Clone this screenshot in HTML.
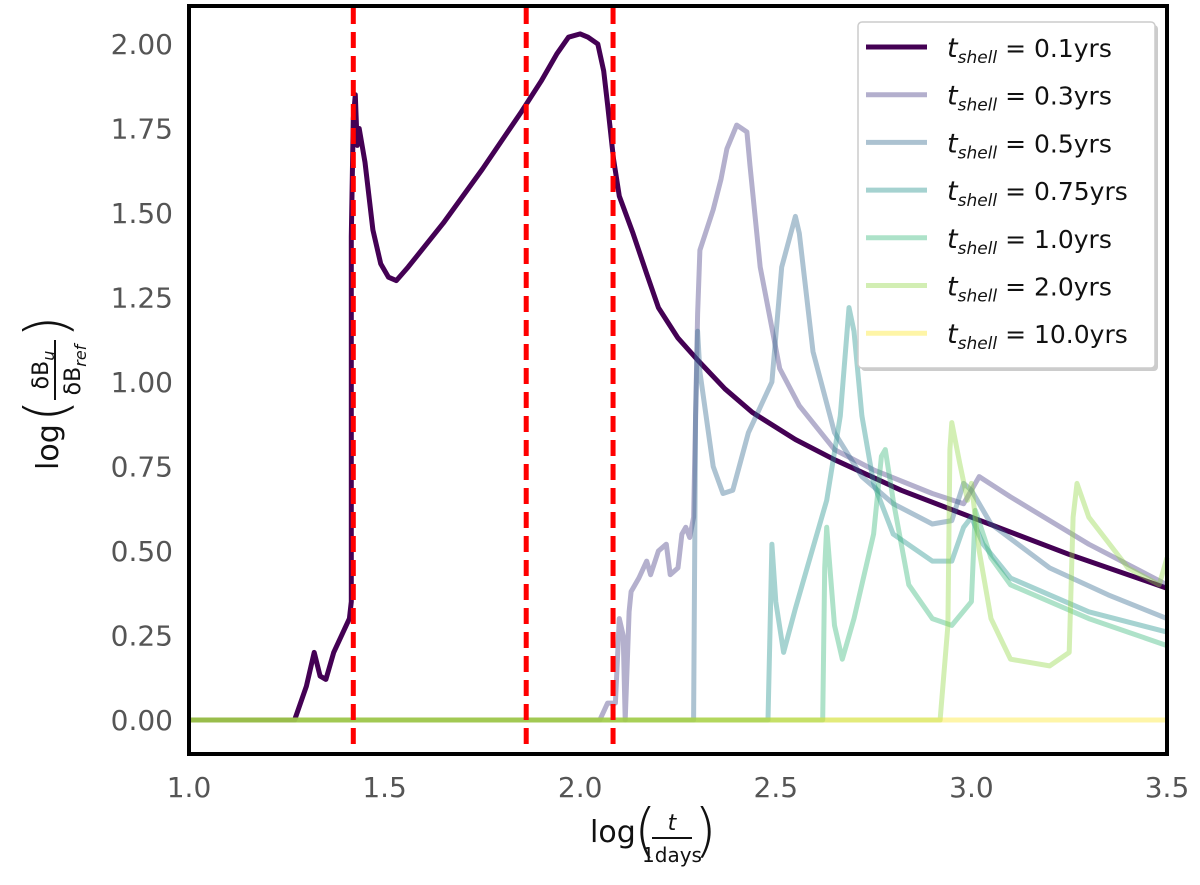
<!DOCTYPE html>
<html><head><meta charset="utf-8"><style>
body{margin:0;background:#fff;}
svg text{font-family:"DejaVu Sans","Liberation Sans",sans-serif;}
</style></head><body>
<svg id="chart" width="1200" height="880" viewBox="0 0 1200 880" xmlns="http://www.w3.org/2000/svg">
<g id="marks"></g>
<rect x="189" y="6" width="978" height="748" fill="none" stroke="#000" stroke-width="4"/>
<g id="ticks"></g>
<g font-size="30" fill="#111">
<text x="590" y="842">log</text>
<text x="634" y="850" font-size="58" font-weight="100">(</text>
<text x="672" y="830" font-size="22" font-style="italic" text-anchor="middle">t</text>
<line x1="652" y1="838" x2="692" y2="838" stroke="#111" stroke-width="2"/>
<text x="672" y="862" font-size="20" text-anchor="middle">1days</text>
<text x="694" y="850" font-size="58" font-weight="100">)</text>
</g>
<g transform="translate(58,370) rotate(-90)" font-size="30" fill="#111">
<text x="-100" y="0">log</text>
<text x="-52" y="8" font-size="58" font-weight="100">(</text>
<text x="0" y="-10" font-size="22" text-anchor="middle">δB<tspan font-style="italic" font-size="16" dy="6">u</tspan></text>
<line x1="-30" y1="-3" x2="30" y2="-3" stroke="#111" stroke-width="2"/>
<text x="0" y="22" font-size="22" text-anchor="middle">δB<tspan font-style="italic" font-size="16" dy="6">ref</tspan></text>
<text x="32" y="8" font-size="58" font-weight="100">)</text>
</g>
<g id="legend">
<rect x="861" y="25" width="297" height="346" rx="4" fill="#999" opacity="0.5"/>
<rect x="858" y="22" width="297" height="346" rx="4" fill="#fff" stroke="#ccc" stroke-width="1.5"/>
</g>
</svg>
<script>
const xTicks=[1.0,1.5,2.0,2.5,3.0,3.5];
const xTickLabels=["1.0","1.5","2.0","2.5","3.0","3.5"];
const yTicks=[0,0.25,0.5,0.75,1.0,1.25,1.5,1.75,2.0];
const yTickLabels=["0.00","0.25","0.50","0.75","1.00","1.25","1.50","1.75","2.00"];
const vlines=[1.42,1.862,2.084];
const seriesNames=["0.1","0.3","0.5","0.75","1.0","2.0","10.0"];
const seriesColors=["#440154","#443983","#31688e","#21918c","#35b779","#90d743","#fde725"];
const s01=[[1.0,0],[1.27,0],[1.30,0.10],[1.32,0.20],[1.335,0.13],[1.35,0.12],[1.37,0.20],[1.41,0.30],[1.415,0.35],[1.415,1.43],[1.42,1.78],[1.425,1.85],[1.43,1.70],[1.435,1.75],[1.45,1.65],[1.47,1.45],[1.49,1.35],[1.51,1.31],[1.53,1.30],[1.56,1.34],[1.65,1.47],[1.75,1.63],[1.85,1.80],[1.90,1.89],[1.94,1.97],[1.97,2.02],[2.0,2.03],[2.02,2.02],[2.045,2.00],[2.06,1.92],[2.07,1.82],[2.085,1.66],[2.10,1.55],[2.135,1.44],[2.17,1.32],[2.2,1.22],[2.25,1.13],[2.3,1.065],[2.37,0.98],[2.44,0.91],[2.55,0.83],[2.65,0.77],[2.82,0.68],[3.0,0.60],[3.25,0.49],[3.5,0.39]];
const s03=[[1.0,0],[2.05,0],[2.07,0.05],[2.09,0.05],[2.10,0.30],[2.11,0.25],[2.115,0.0],[2.125,0.32],[2.13,0.38],[2.15,0.42],[2.17,0.47],[2.18,0.43],[2.20,0.50],[2.22,0.52],[2.23,0.43],[2.25,0.45],[2.26,0.55],[2.27,0.57],[2.28,0.54],[2.29,0.60],[2.30,1.20],[2.306,1.39],[2.34,1.51],[2.36,1.60],[2.375,1.69],[2.40,1.76],[2.426,1.74],[2.434,1.64],[2.46,1.34],[2.51,1.04],[2.56,0.93],[2.65,0.80],[2.75,0.74],[2.9,0.67],[2.98,0.64],[3.02,0.72],[3.1,0.66],[3.3,0.52],[3.5,0.40]];
const s05=[[1.0,0],[2.29,0],[2.295,0.9],[2.30,1.15],[2.306,1.03],[2.34,0.75],[2.365,0.67],[2.39,0.68],[2.43,0.85],[2.49,1.00],[2.515,1.34],[2.55,1.49],[2.56,1.44],[2.595,1.09],[2.65,0.85],[2.72,0.72],[2.8,0.64],[2.9,0.58],[2.95,0.59],[2.98,0.70],[3.0,0.68],[3.05,0.58],[3.2,0.45],[3.35,0.37],[3.5,0.30]];
const s075=[[1.0,0],[2.48,0],[2.485,0.25],[2.49,0.52],[2.50,0.35],[2.52,0.20],[2.55,0.33],[2.58,0.45],[2.63,0.65],[2.665,0.90],[2.687,1.22],[2.70,1.15],[2.72,0.90],[2.75,0.70],[2.8,0.55],[2.9,0.47],[2.95,0.47],[2.98,0.57],[3.0,0.60],[3.03,0.52],[3.1,0.42],[3.3,0.32],[3.5,0.26]];
const s10=[[1.0,0],[2.62,0],[2.625,0.45],[2.63,0.57],[2.65,0.28],[2.67,0.18],[2.70,0.30],[2.75,0.55],[2.77,0.78],[2.78,0.80],[2.80,0.65],[2.84,0.40],[2.9,0.30],[2.95,0.28],[3.0,0.35],[3.01,0.62],[3.05,0.48],[3.1,0.40],[3.3,0.30],[3.5,0.22]];
const s20=[[1.0,0],[2.92,0],[2.94,0.28],[2.945,0.80],[2.95,0.88],[2.97,0.76],[2.99,0.65],[3.0,0.70],[3.02,0.50],[3.05,0.30],[3.1,0.18],[3.2,0.16],[3.25,0.20],[3.26,0.60],[3.27,0.70],[3.3,0.60],[3.4,0.45],[3.48,0.40],[3.5,0.48]];
const s100=[[1.0,0],[3.5,0]];
const allSeries=[s01,s03,s05,s075,s10,s20,s100];

const NS="http://www.w3.org/2000/svg";
const X0=189,X1=1167,Y0=720,Y2=44;
function xs(v){return X0+(v-1.0)/(3.5-1.0)*(X1-X0);}
function ys(v){return Y0-(v/2.0)*(Y0-Y2);}
const marks=document.getElementById('marks');
const ticks=document.getElementById('ticks');
const legend=document.getElementById('legend');
for(let i=0;i<allSeries.length;i++){
  const p=document.createElementNS(NS,'path');
  
  
  p.setAttribute('d',allSeries[i].map((d,k)=>(k?'L':'M')+xs(d[0]).toFixed(1)+','+ys(d[1]).toFixed(1)).join(''));
  p.setAttribute('fill','none');
  p.setAttribute('stroke',seriesColors[i]);
  p.setAttribute('stroke-width','5');
  p.setAttribute('stroke-linejoin','round');
  p.setAttribute('opacity',i===0?'1':'0.4');
  marks.appendChild(p);
}
vlines.forEach((v,i)=>{
  const l=document.createElementNS(NS,'line');
  
  
  l.setAttribute('x1',xs(v));l.setAttribute('x2',xs(v));
  l.setAttribute('y1',8);l.setAttribute('y2',754);
  l.setAttribute('stroke','#ff0000');l.setAttribute('stroke-width','5');
  l.setAttribute('stroke-dasharray','16,8');
  marks.appendChild(l);
});
xTicks.forEach((v,i)=>{
  const t=document.createElementNS(NS,'text');
  
  
  t.setAttribute('x',xs(v));t.setAttribute('y',797);
  t.setAttribute('text-anchor','middle');t.setAttribute('font-size','28');t.setAttribute('fill','#555');
  t.textContent=xTickLabels[i];ticks.appendChild(t);
});
yTicks.forEach((v,i)=>{
  const t=document.createElementNS(NS,'text');
  
  
  t.setAttribute('x',173);t.setAttribute('y',ys(v)+10);
  t.setAttribute('text-anchor','end');t.setAttribute('font-size','28');t.setAttribute('fill','#555');
  t.textContent=yTickLabels[i];ticks.appendChild(t);
});
seriesNames.forEach((n,i)=>{
  const y=47+i*47.7;
  const g=document.createElementNS(NS,'g');
  
  
  const l=document.createElementNS(NS,'line');
  l.setAttribute('x1',866);l.setAttribute('x2',927);l.setAttribute('y1',y);l.setAttribute('y2',y);
  l.setAttribute('stroke',seriesColors[i]);l.setAttribute('stroke-width','5');
  l.setAttribute('opacity',i===0?'1':'0.4');
  g.appendChild(l);
  const t=document.createElementNS(NS,'text');
  t.setAttribute('x',947);t.setAttribute('y',y+10);t.setAttribute('font-size','25');t.setAttribute('fill','#111');
  t.innerHTML='<tspan font-style="italic" font-size="27">t</tspan><tspan font-style="italic" font-size="17" dy="6">shell</tspan><tspan dy="-6"> = '+n+'yrs</tspan>';
  g.appendChild(t);
  legend.appendChild(g);
});
</script>
</body></html>
